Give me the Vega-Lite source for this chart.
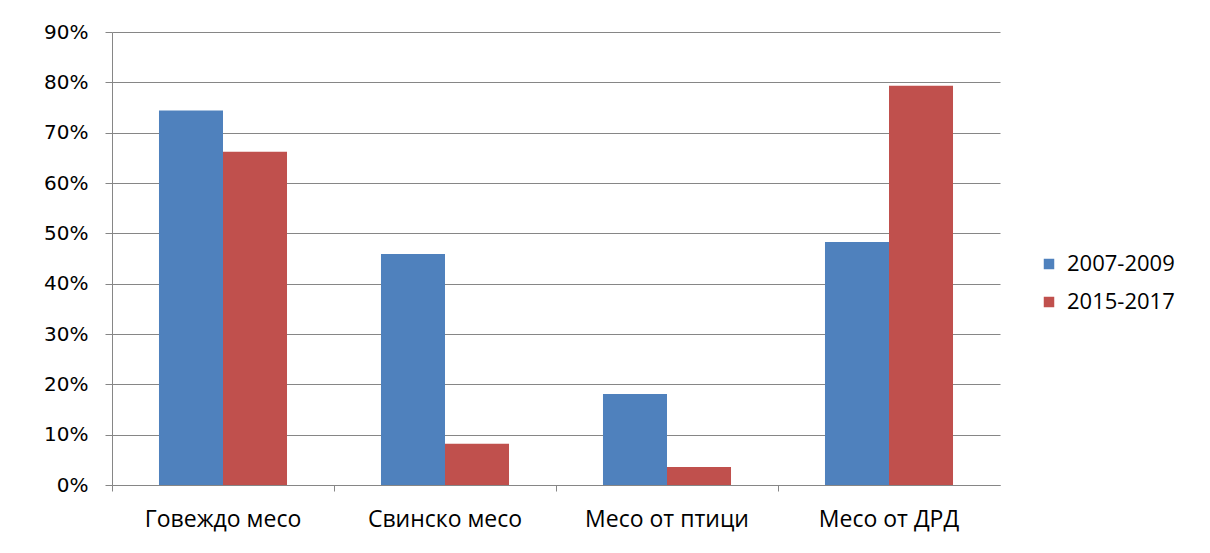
{
  "$schema": "https://vega.github.io/schema/vega-lite/v6.json",
  "width": 888,
  "height": 453,
  "autosize": "none",
  "padding": {"left": 112, "top": 32, "right": 210, "bottom": 68},
  "background": "white",
  "data": {"values": [
    {"category": "Говеждо месо", "period": "2007-2009", "value": 0.744},
    {"category": "Говеждо месо", "period": "2015-2017", "value": 0.662},
    {"category": "Свинско месо", "period": "2007-2009", "value": 0.459},
    {"category": "Свинско месо", "period": "2015-2017", "value": 0.082},
    {"category": "Месо от птици", "period": "2007-2009", "value": 0.181},
    {"category": "Месо от птици", "period": "2015-2017", "value": 0.036},
    {"category": "Месо от ДРД", "period": "2007-2009", "value": 0.483},
    {"category": "Месо от ДРД", "period": "2015-2017", "value": 0.793}
  ]},
  "mark": {"type": "bar"},
  "encoding": {
    "x": {
      "field": "category", "type": "nominal", "sort": null,
      "scale": {"paddingInner": 0, "paddingOuter": 0},
      "axis": {
        "title": null, "labelAngle": 0, "bandPosition": 0,
        "domainColor": "#868686", "tickColor": "#868686", "tickSize": 6,
        "labelPadding": 17, "labelFontSize": 23, "labelFont": "Open Sans",
        "labelColor": "#000000", "labelBaseline": "top", "grid": false
      }
    },
    "xOffset": {
      "field": "period", "type": "nominal",
      "scale": {"paddingInner": 0, "paddingOuter": 0.734}
    },
    "y": {
      "field": "value", "type": "quantitative",
      "scale": {"domain": [0, 0.9], "nice": false},
      "axis": {
        "title": null, "format": ".0%", "values": [0, 0.1, 0.2, 0.3, 0.4, 0.5, 0.6, 0.7, 0.8, 0.9],
        "grid": true, "gridColor": "#868686", "gridWidth": 1,
        "domainColor": "#868686", "tickColor": "#868686", "tickSize": 7,
        "labelPadding": 17, "labelFontSize": 20, "labelFont": "DejaVu Sans",
        "labelColor": "#000000"
      }
    },
    "color": {
      "field": "period", "type": "nominal",
      "scale": {"domain": ["2007-2009", "2015-2017"], "range": ["#4F81BD", "#C0504D"]},
      "legend": {
        "title": null, "orient": "none", "legendX": 926, "legendY": 221,
        "symbolType": "square", "symbolSize": 110, "symbolStrokeWidth": 0,
        "labelFontSize": 22, "labelFont": "Open Sans", "labelColor": "#000000",
        "rowPadding": 16, "labelOffset": 7
      }
    }
  },
  "config": {"view": {"stroke": null}}
}
